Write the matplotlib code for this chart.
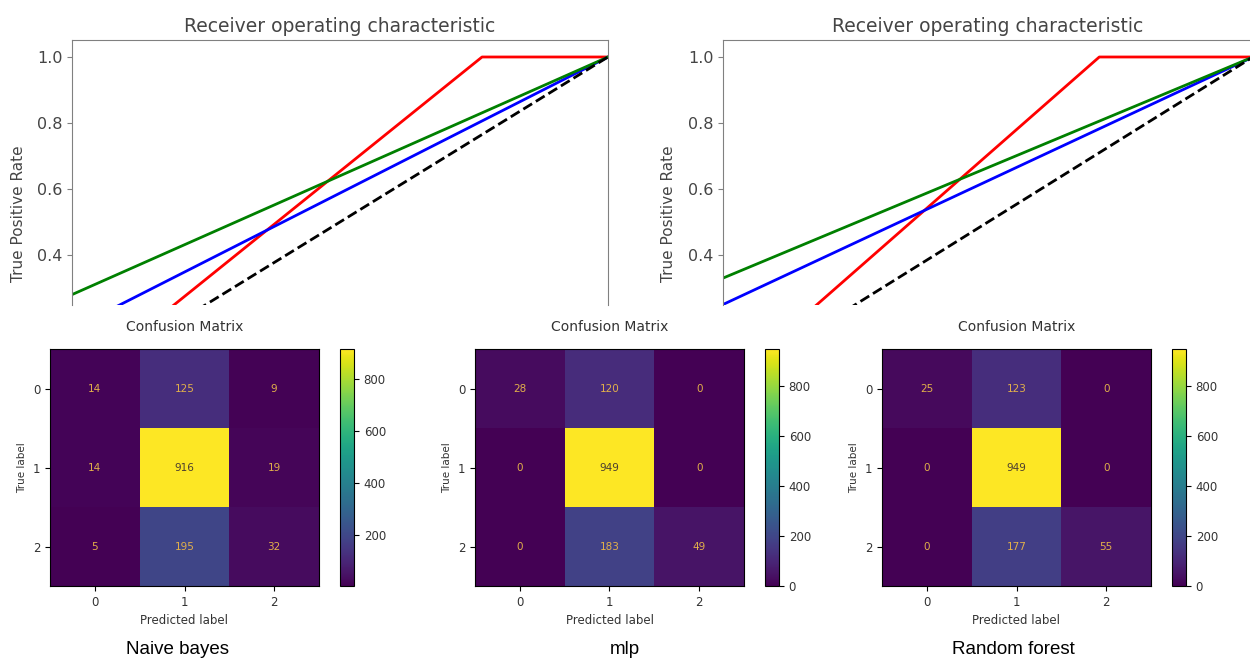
import matplotlib
matplotlib.use("Agg")
import matplotlib.pyplot as plt
import numpy as np

W, H = 1250, 659

# ROC curves (only upper part visible in the reference)
roc_left_fpr = {"red": [0.0, 0.765, 1.0], "blue": [0.0, 0.03, 1.0], "green": [0.0, 1.0]}
roc_left_tpr = {"red": [0.0, 1.0, 1.0], "blue": [0.0, 0.20, 1.0], "green": [0.28, 1.0]}
roc_right_fpr = {"red": [0.0, 0.71, 1.0], "blue": [0.0, 1.0], "green": [0.0, 1.0]}
roc_right_tpr = {"red": [0.0, 1.0, 1.0], "blue": [0.25, 1.0], "green": [0.33, 1.0]}
diag = [0.0, 1.0]

# confusion matrices
labels = ["0", "1", "2"]
cm_nb = np.array([[14, 125, 9], [14, 916, 19], [5, 195, 32]])
cm_mlp = np.array([[28, 120, 0], [0, 949, 0], [0, 183, 49]])
cm_rf = np.array([[25, 123, 0], [0, 949, 0], [0, 177, 55]])
model_names = ["Naive bayes", "mlp", "Random forest"]


def px_axes(fig, x0, y0, x1, y1):
    return fig.add_axes([x0 / W, 1 - y1 / H, (x1 - x0) / W, (y1 - y0) / H])


fig = plt.figure(figsize=(W / 100, H / 100), dpi=100)
grey = "#454545"

for (x0, x1, ylab_x), fpr, tpr in [((72, 608, 26), roc_left_fpr, roc_left_tpr),
                                   ((723, 1253, 676), roc_right_fpr, roc_right_tpr)]:
    ax = px_axes(fig, x0, 40, x1, 305)
    for c in ["red", "blue", "green"]:
        ax.plot(fpr[c], tpr[c], color=c, lw=2)
    ax.plot(diag, diag, "k--", lw=2)
    ax.set_xlim(0.0, 1.0)
    ax.set_ylim(0.2485, 1.0515)
    ax.set_yticks([0.4, 0.6, 0.8, 1.0])
    ax.set_xticks([])
    ax.spines["bottom"].set_visible(False)
    for s in ["top", "left", "right"]:
        ax.spines[s].set_color("#808080")
    ax.tick_params(axis="y", labelsize=11.5, labelcolor=grey, color="#808080")
    ax.set_title("Receiver operating characteristic", fontsize=13.5, color=grey)
    ax.set_ylabel("True Positive Rate", fontsize=11, color=grey)
    # the original axes went further down, so the label sits low
    ax.yaxis.set_label_coords((ylab_x - x0) / (x1 - x0), (305 - 214) / 265)

cm_boxes = [(50, 319, 340, 354, 177), (475, 744, 765, 779, 625), (882, 1151, 1172, 1186, 1013)]
cmap = plt.get_cmap("viridis")

for cm, name, (x0, x1, c0, c1, cap_x) in zip([cm_nb, cm_mlp, cm_rf], model_names, cm_boxes):
    ax = px_axes(fig, x0, 349, x1, 586)
    im = ax.imshow(cm, cmap=cmap, aspect="auto", interpolation="nearest")
    thresh = (cm.max() + cm.min()) / 2
    for i in range(3):
        for j in range(3):
            col = "#4a3d30" if cm[i, j] > thresh else "#e2b04a"
            ax.text(j, i, str(cm[i, j]), ha="center", va="center", fontsize=7.5, color=col)
    ax.set_xticks(range(3))
    ax.set_yticks(range(3))
    ax.set_xticklabels(labels)
    ax.set_yticklabels(labels)
    ax.tick_params(labelsize=8.5, labelcolor="#333333")
    ax.set_xlabel("Predicted label", fontsize=8.5, color="#333333")
    ax.set_ylabel("True label", fontsize=7.5, color="#333333")
    ax.set_title("Confusion Matrix", fontsize=10, color="#333333", pad=13)
    cax = px_axes(fig, c0, 349, c1, 586)
    cb = fig.colorbar(im, cax=cax)
    cb.set_ticks([t for t in range(0, 1000, 200) if cm.min() <= t <= cm.max()])
    cb.ax.tick_params(labelsize=8.5, labelcolor="#333333")
    fig.text(cap_x / W, 1 - 650 / H, name, ha="center", va="center",
             fontsize=13.5, family="Liberation Sans", color="black")

fig.savefig("out.png", dpi=100)
